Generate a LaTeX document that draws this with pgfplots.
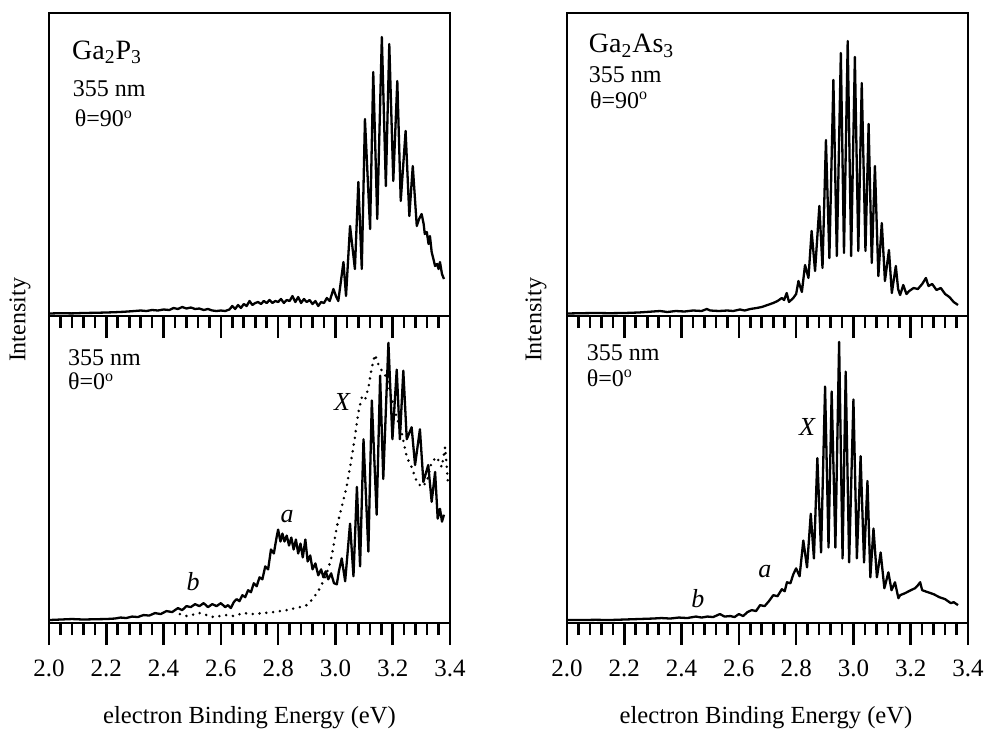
\documentclass[border=0pt]{standalone}
\usepackage{fontspec}
\setmainfont{Liberation Serif}
\usepackage{pgfplots}
\pgfplotsset{compat=1.18}

\pgfplotsset{
  spec/.style={
    scale only axis, width=200.5pt,
    xmin=2.0, xmax=3.4, ymin=-2,
    xtick={2.0,2.2,2.4,2.6,2.8,3.0,3.2,3.4},
    minor x tick num=4,
    ytick=\empty,
    xtick pos=bottom,
    tick align=outside,
    axis line style={line width=1.4pt},
    major tick length=11pt, minor tick length=6pt,
    every tick/.append style={line width=1.3pt, black},
    /pgf/number format/assume math mode=true,
    xticklabel style={font=\fontsize{12.5}{14}\selectfont, yshift=-4pt, /pgf/number format/.cd, fixed, fixed zerofill, precision=1},
  },
  toppanel/.style={spec, height=151.5pt, ymax=301, xticklabel=\empty},
  botpanel/.style={spec, height=153.5pt, ymax=307},
  curve/.style={black, line width=1.15pt, line join=round},
  dots/.style={black, line width=1.4pt, line cap=round, dash pattern=on 0pt off 3.4pt},
}
\newcommand{\lab}{\fontsize{12}{13}\selectfont}
\newcommand{\bigfs}{\fontsize{14}{16}\selectfont}
\newcommand{\annot}{\fontsize{13}{15}\selectfont\itshape}

\begin{document}
\begin{tikzpicture}
\useasboundingbox (0,0) rectangle (492pt,-364pt);

% ---------------- Left top: Ga2P3, theta = 90
\begin{axis}[toppanel, at={(24.5pt,-6.5pt)}, anchor=north west]
\addplot[curve] coordinates {
(2.00,0.5)(2.04,0.8)(2.08,0.6)(2.12,1.0)(2.16,1.2)(2.20,1.5)(2.23,1.8)(2.26,2.2)(2.29,2.8)(2.32,3.5)(2.34,3)(2.36,4)(2.38,3.5)(2.40,4.5)(2.42,4)(2.435,6)(2.45,5)(2.465,7)(2.48,5.5)(2.495,6.5)(2.51,5)(2.525,5.5)(2.54,4)(2.555,5)(2.57,3.5)(2.585,3)(2.60,3.5)(2.615,3)(2.63,4.5)(2.64,8)(2.65,5)(2.66,9)(2.67,6)(2.68,10)(2.69,8)(2.70,13)(2.71,9)(2.72,11)(2.73,12)(2.74,10)(2.75,13)(2.76,11)(2.77,14)(2.78,11)(2.79,13)(2.80,12)(2.81,15)(2.82,11)(2.83,14)(2.84,13)(2.85,18)(2.86,12)(2.87,17)(2.88,11)(2.89,15)(2.90,12)(2.91,14)(2.92,10)(2.93,13)(2.94,8)(2.95,12)(2.96,11)(2.97,16)(2.98,13)(2.993,25)(3.003,17)(3.010,13)(3.028,52)(3.037,18)(3.051,88)(3.068,45)(3.080,132)(3.092,45)(3.103,195)(3.121,85)(3.132,242)(3.146,95)(3.162,277)(3.176,128)(3.188,270)(3.202,133)(3.216,233)(3.228,113)(3.245,183)(3.258,98)(3.270,148)(3.284,88)(3.292,95)(3.301,100)(3.308,90)(3.312,80)(3.319,82)(3.325,70)(3.330,78)(3.336,62)(3.342,55)(3.348,48)(3.355,50)(3.360,45)(3.365,52)(3.372,40)(3.379,35)
};
\node[anchor=base west, font=\bigfs] at (rel axis cs:0.04,0.848) {Ga\textsubscript{2}P\textsubscript{3}};
\node[anchor=base west, font=\lab] at (rel axis cs:0.042,0.723) {355 nm};
\node[anchor=base west, font=\lab] at (rel axis cs:0.047,0.624) {θ=90\textsuperscript{o}};
\end{axis}

% ---------------- Left bottom: theta = 0
\begin{axis}[botpanel, at={(24.5pt,-158pt)}, anchor=north west]
\addplot[dots] coordinates {
(2.457,7)(2.481,5)(2.527,8)(2.574,4)(2.620,6)(2.644,5)(2.678,8)(2.713,7)(2.783,9)(2.830,11)(2.876,14)(2.900,16)(2.923,23)(2.946,33)(2.970,48)(2.987,65)(3.005,95)(3.022,115)(3.039,135)(3.057,165)(3.068,185)(3.080,210)(3.092,225)(3.103,222)(3.115,235)(3.127,255)(3.138,268)(3.150,258)(3.162,252)(3.179,245)(3.196,225)(3.214,205)(3.231,190)(3.249,165)(3.266,155)(3.284,140)(3.301,135)(3.319,140)(3.336,160)(3.354,165)(3.371,155)(3.383,175)(3.394,135)
};
\addplot[curve] coordinates {
(2.00,1)(2.04,1.5)(2.08,2)(2.12,1.5)(2.16,1.8)(2.20,2)(2.23,2.5)(2.25,3.5)(2.27,3)(2.29,4.5)(2.31,4)(2.33,6)(2.35,5.5)(2.37,8)(2.39,7)(2.41,10)(2.43,9)(2.45,13)(2.465,11)(2.48,15)(2.495,14)(2.51,17)(2.525,15)(2.54,18)(2.555,14)(2.57,17)(2.585,15)(2.60,18)(2.615,14)(2.625,16)(2.635,13)(2.645,19)(2.655,22)(2.665,20)(2.675,26)(2.685,24)(2.695,31)(2.705,29)(2.715,38)(2.725,35)(2.735,44)(2.745,42)(2.755,55)(2.765,52)(2.775,72)(2.785,68)(2.795,85)(2.80,92)(2.808,80)(2.815,88)(2.822,80)(2.83,86)(2.838,76)(2.846,84)(2.854,72)(2.862,82)(2.870,68)(2.878,78)(2.886,64)(2.895,82)(2.903,60)(2.912,66)(2.920,52)(2.930,58)(2.940,46)(2.950,52)(2.958,44)(2.966,50)(2.975,42)(2.985,48)(2.995,38)(3.005,37)(3.012,50)(3.022,63)(3.034,40)(3.051,98)(3.063,45)(3.075,135)(3.086,55)(3.098,183)(3.115,70)(3.127,222)(3.144,107)(3.156,247)(3.167,143)(3.185,280)(3.199,183)(3.214,253)(3.225,183)(3.237,252)(3.249,183)(3.266,195)(3.278,157)(3.295,193)(3.307,140)(3.324,157)(3.336,120)(3.348,150)(3.357,103)(3.365,113)(3.372,100)(3.379,107)
};
\node[anchor=base west, font=\lab] at (rel axis cs:0.03,0.84) {355 nm};
\node[anchor=base west, font=\lab] at (rel axis cs:0.03,0.759) {θ=0\textsuperscript{o}};
\node[font=\annot] at (axis cs:3.023,220) {X};
\node[font=\annot] at (axis cs:2.831,105) {a};
\node[font=\annot] at (axis cs:2.503,40) {b};
\end{axis}

% ---------------- Right top: Ga2As3, theta = 90
\begin{axis}[toppanel, at={(283.5pt,-6.5pt)}, anchor=north west]
\addplot[curve] coordinates {
(2.00,0.5)(2.05,0.8)(2.10,1)(2.15,0.8)(2.20,1)(2.25,1.5)(2.30,2.5)(2.325,3)(2.35,2)(2.38,3)(2.41,2.5)(2.44,3.5)(2.47,3)(2.488,5)(2.50,3.5)(2.53,3)(2.56,3.5)(2.58,3)(2.604,4.5)(2.62,3.5)(2.64,5)(2.662,6)(2.68,7)(2.70,9)(2.72,11)(2.735,13)(2.75,16)(2.758,14)(2.767,21)(2.775,12)(2.79,16)(2.80,20)(2.808,33)(2.820,22)(2.831,49)(2.843,36)(2.854,83)(2.866,43)(2.881,108)(2.892,46)(2.904,174)(2.916,56)(2.930,234)(2.942,58)(2.956,261)(2.967,61)(2.980,273)(2.992,58)(3.005,257)(3.017,63)(3.029,231)(3.042,63)(3.053,190)(3.064,51)(3.075,148)(3.087,38)(3.099,91)(3.110,33)(3.124,64)(3.134,21)(3.148,48)(3.156,25)(3.163,19)(3.174,29)(3.185,20)(3.195,23)(3.21,26)(3.225,25)(3.24,30)(3.253,36)(3.262,28)(3.275,30)(3.29,24)(3.305,26)(3.32,20)(3.335,17)(3.35,12)(3.365,9)
};
\node[anchor=base west, font=\bigfs] at (rel axis cs:0.037,0.868) {Ga\textsubscript{2}As\textsubscript{3}};
\node[anchor=base west, font=\lab] at (rel axis cs:0.037,0.769) {355 nm};
\node[anchor=base west, font=\lab] at (rel axis cs:0.04,0.686) {θ=90\textsuperscript{o}};
\end{axis}

% ---------------- Right bottom: theta = 0
\begin{axis}[botpanel, at={(283.5pt,-158pt)}, anchor=north west]
\addplot[curve] coordinates {
(2.00,1)(2.05,1)(2.10,1.2)(2.15,1)(2.20,1.5)(2.25,2)(2.30,2.5)(2.33,3)(2.36,2.5)(2.39,3.5)(2.42,3)(2.45,4.5)(2.47,3.5)(2.49,4.5)(2.51,4)(2.534,7)(2.55,4.5)(2.57,5)(2.585,4)(2.60,7)(2.615,5)(2.63,9)(2.645,11)(2.66,10)(2.674,16)(2.69,15)(2.705,20)(2.72,26)(2.735,25)(2.75,32)(2.76,30)(2.768,39)(2.78,38)(2.79,47)(2.80,53)(2.812,45)(2.825,81)(2.838,54)(2.851,108)(2.862,63)(2.874,164)(2.887,69)(2.901,236)(2.913,74)(2.924,231)(2.937,74)(2.950,281)(2.962,63)(2.973,251)(2.985,59)(3.000,223)(3.012,63)(3.025,166)(3.037,59)(3.049,141)(3.059,44)(3.070,93)(3.082,44)(3.095,69)(3.108,33)(3.122,49)(3.133,31)(3.145,39)(3.157,23)(3.163,26)(3.18,28)(3.20,31)(3.215,33)(3.225,36)(3.233,39)(3.24,31)(3.26,29)(3.28,27)(3.30,24)(3.32,22)(3.34,18)(3.35,19)(3.365,16)
};
\node[anchor=base west, font=\lab] at (rel axis cs:0.032,0.855) {355 nm};
\node[anchor=base west, font=\lab] at (rel axis cs:0.032,0.772) {θ=0\textsuperscript{o}};
\node[font=\annot] at (axis cs:2.838,195) {X};
\node[font=\annot] at (axis cs:2.691,50) {a};
\node[font=\annot] at (axis cs:2.457,23) {b};
\end{axis}

% axis titles
\node[rotate=90, font=\fontsize{12}{14}\selectfont] at (10pt,-160pt) {Intensity};
\node[rotate=90, font=\fontsize{12}{14}\selectfont] at (268pt,-160pt) {Intensity};
\node[anchor=base, font=\fontsize{12.3}{14}\selectfont] at (124.75pt,-361.5pt) {electron Binding Energy (eV)};
\node[anchor=base, font=\fontsize{12.3}{14}\selectfont] at (383pt,-361.5pt) {electron Binding Energy (eV)};
\end{tikzpicture}
\end{document}
